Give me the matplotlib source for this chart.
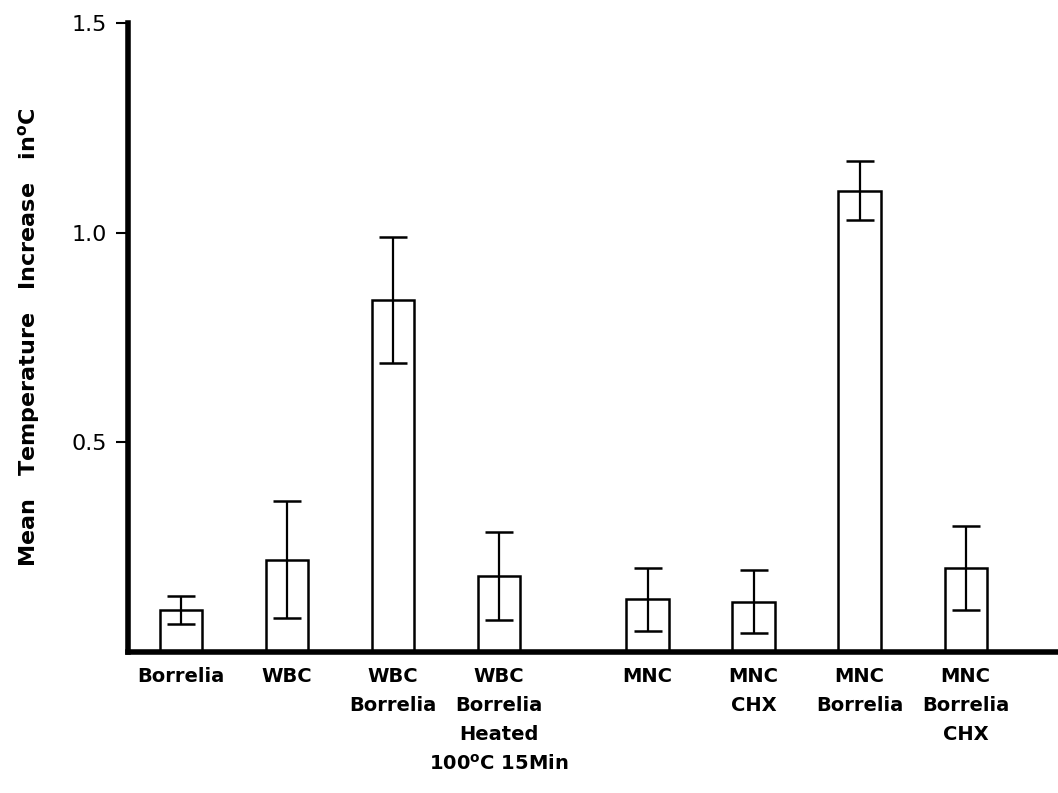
import numpy as np
import matplotlib
matplotlib.use("Agg")
import matplotlib.pyplot as plt

plt.rcParams["font.family"] = ["DejaVu Sans"]
plt.rcParams["font.weight"] = "bold"
plt.rcParams["mathtext.default"] = "bf"

# data
labels = ["Borrelia", "WBC", "WBC\nBorrelia", "WBC\nBorrelia\nHeated\n100$^{\\mathrm{o}}$C 15Min",
          "MNC", "MNC\nCHX", "MNC\nBorrelia", "MNC\nBorrelia\nCHX"]
means = [0.10, 0.22, 0.84, 0.18, 0.125, 0.12, 1.10, 0.20]
errs = [0.033, 0.14, 0.15, 0.105, 0.075, 0.075, 0.07, 0.10]
xpos = [0, 1, 2, 3, 4.4, 5.4, 6.4, 7.4]

fig = plt.figure(figsize=(10.58, 7.93), dpi=100)
ax = fig.add_axes([0.121, 0.178, 0.879, 0.793])

ax.bar(xpos, means, width=0.4, color="white", edgecolor="black", linewidth=1.8, zorder=2)
ax.errorbar(xpos, means, yerr=errs, fmt="none", ecolor="black", elinewidth=1.6,
            capsize=10, capthick=1.8, zorder=3)

ax.set_xlim(-0.5, 8.27)
ax.set_ylim(0, 1.5)
ax.set_yticks([0.5, 1.0, 1.5])
ax.set_yticklabels(["0.5", "1.0", "1.5"], fontsize=16, fontweight="normal")
ax.tick_params(axis="y", direction="out", length=9, width=1.5, pad=6)

ax.set_xticks(xpos)
ax.set_xticklabels(labels, fontsize=14, linespacing=1.65, va="top")
ax.tick_params(axis="x", length=0, pad=11)

ax.spines["top"].set_visible(False)
ax.spines["right"].set_visible(False)
ax.spines["left"].set_linewidth(4)
ax.spines["bottom"].set_linewidth(4)

ax.set_ylabel("Mean   Temperature   Increase   in$^{\\mathrm{o}}$C", fontsize=16,
              fontweight="bold")
ax.yaxis.set_label_coords(-0.092, 0.5)

fig.savefig("out.png", dpi=100)
